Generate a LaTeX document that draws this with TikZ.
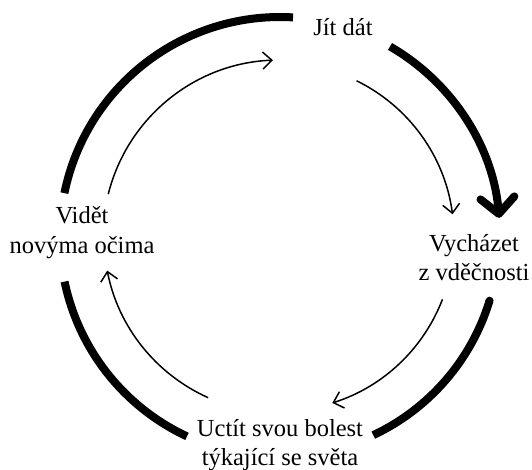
\documentclass[tikz,border=0pt]{standalone}
\usepackage{fontspec}
\setmainfont{Liberation Serif}
\usetikzlibrary{arrows.meta}
\begin{document}
\begin{tikzpicture}[x=1pt,y=1pt,
  bigarc/.style={line width=8pt},
  smallarc/.style={line width=1.5pt,-{Straight Barb[length=9pt,width=17pt]}},
  lbl/.style={align=center,font=\fontsize{24.5}{29}\selectfont,inner sep=0pt,anchor=base}]
\useasboundingbox (0,0) rectangle (532,469);
\coordinate (C) at (280,232);
\node[lbl] (jit) at (343,433) {Jít dát};
\node[lbl] (vych) at (474,189) {Vycházet\\z vděčnosti};
\node[lbl] (uct) at (280,4) {Uctít svou bolest\\týkající se světa};
\node[lbl] (vid) at (82,216) {Vidět\\novýma očima};
% thick outer arcs
\draw[bigarc] ([shift={(168.5:220)}]C) arc[start angle=168.5,end angle=86.6,radius=220];
\draw[bigarc,-{Straight Barb[length=16pt,width=34pt,round]}] ([shift={(60:220)}]C) arc[start angle=60,end angle=5,radius=220];
\draw[bigarc] ([shift={(-16.9:219)}]C) arc[start angle=-16.9,end angle=-64.8,radius=219];
\fill ([shift={(-16.9:219)}]C) circle[radius=4pt];
\draw[bigarc] ([shift={(191.7:220)}]C) arc[start angle=191.7,end angle=245,radius=220];
% thin inner arrows
\draw[smallarc] ([shift={(166:177)}]C) arc[start angle=166,end angle=92.3,radius=177];
\draw[smallarc] ([shift={(63.9:174)}]C) arc[start angle=63.9,end angle=7.5,radius=174];
\draw[smallarc] ([shift={(-21:174)}]C) arc[start angle=-21,end angle=-72.5,radius=174];
\draw[smallarc] ([shift={(245.9:176)}]C) arc[start angle=245.9,end angle=191,radius=176];
\end{tikzpicture}
\end{document}
